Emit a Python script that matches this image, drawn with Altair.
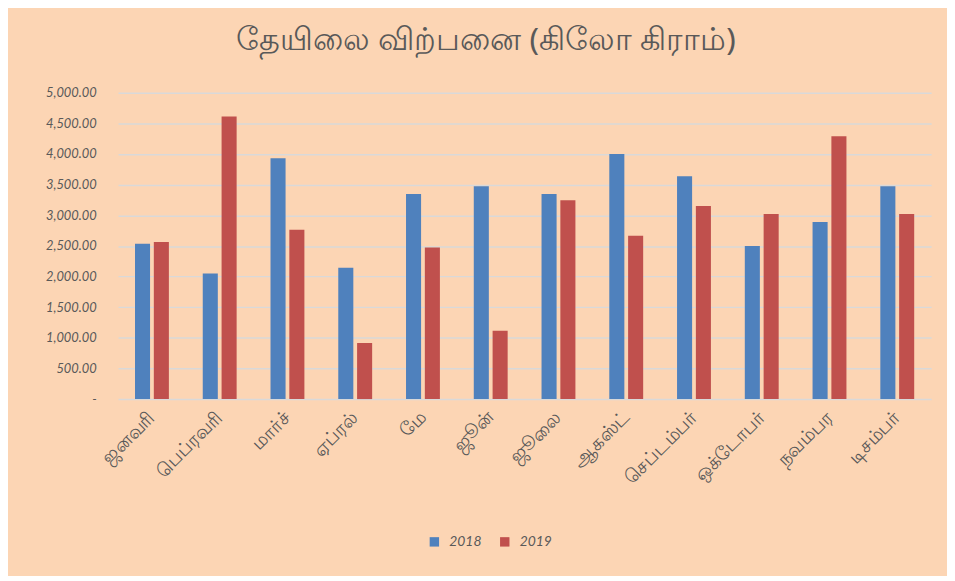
import altair as alt
import pandas as pd

months = ["ஜனவரி", "பெப்ரவரி", "மார்ச்", "ஏப்ரல்", "மே", "ஜூன்",
          "ஜூலை", "ஆகஸ்ட்", "செப்டம்பர்", "ஒக்டோபர்", "நவம்பர", "டிசம்பர்"]
years = ["2018", "2019"]
sales_2018 = [2535, 2050, 3930, 2145, 3345, 3475, 3345, 4000, 3635, 2500, 2890, 3475]
sales_2019 = [2565, 4610, 2765, 915, 2475, 1115, 3245, 2665, 3150, 3020, 4290, 3020]
colors = ["#4F81BD", "#C0504D"]

rows = []
for m, a, b in zip(months, sales_2018, sales_2019):
    rows.append({"month": m, "year": years[0], "value": a})
    rows.append({"month": m, "year": years[1], "value": b})
df = pd.DataFrame(rows)

text_color = "#595959"
bg = "#FCD5B4"

chart = alt.Chart(df).mark_bar().encode(
    x=alt.X("month:N", sort=months, title=None,
            scale=alt.Scale(paddingInner=0.5, paddingOuter=0.25),
            axis=alt.Axis(labelAngle=-45, labelAlign="right", labelBaseline="middle",
                          labelPadding=15, ticks=False, domain=False,
                          labelFont="Noto Sans", labelFontSize=19, labelColor=text_color)),
    xOffset=alt.XOffset("year:N", scale=alt.Scale(paddingInner=0.2, paddingOuter=0)),
    y=alt.Y("value:Q", title=None,
            scale=alt.Scale(domain=[0, 5000], nice=False),
            axis=alt.Axis(values=list(range(0, 5001, 500)), ticks=False, domain=False,
                          labelExpr="datum.value == 0 ? '-' : format(datum.value, ',.2f')",
                          labelPadding=22, labelFont="Lato", labelFontStyle="italic",
                          labelFontSize=13, labelColor=text_color,
                          gridColor="#D9D9D9", gridWidth=1.5)),
    color=alt.Color("year:N", scale=alt.Scale(domain=years, range=colors), title=None,
                    legend=alt.Legend(orient="none", direction="horizontal",
                                      legendX=312, legendY=446,
                                      symbolType="square", symbolSize=90,
                                      symbolStrokeWidth=0,
                                      labelFont="Lato", labelFontStyle="italic",
                                      labelFontSize=14, labelColor=text_color,
                                      columnPadding=16, labelOffset=8)),
).properties(
    width=820,
    height=309,
    title=alt.TitleParams("தேயிலை விற்பனை (கிலோ கிராம்)", font="Noto Sans",
                          fontSize=32, fontWeight="normal", color=text_color,
                          anchor="middle", dx=-39, offset=30),
    background=bg,
    padding={"left": 111, "top": 83, "right": 16, "bottom": 176},
    autosize=alt.AutoSizeParams(type="none"),
).configure_view(stroke=None)

chart.save("out.html", embed_options={"renderer": "svg", "actions": False})
